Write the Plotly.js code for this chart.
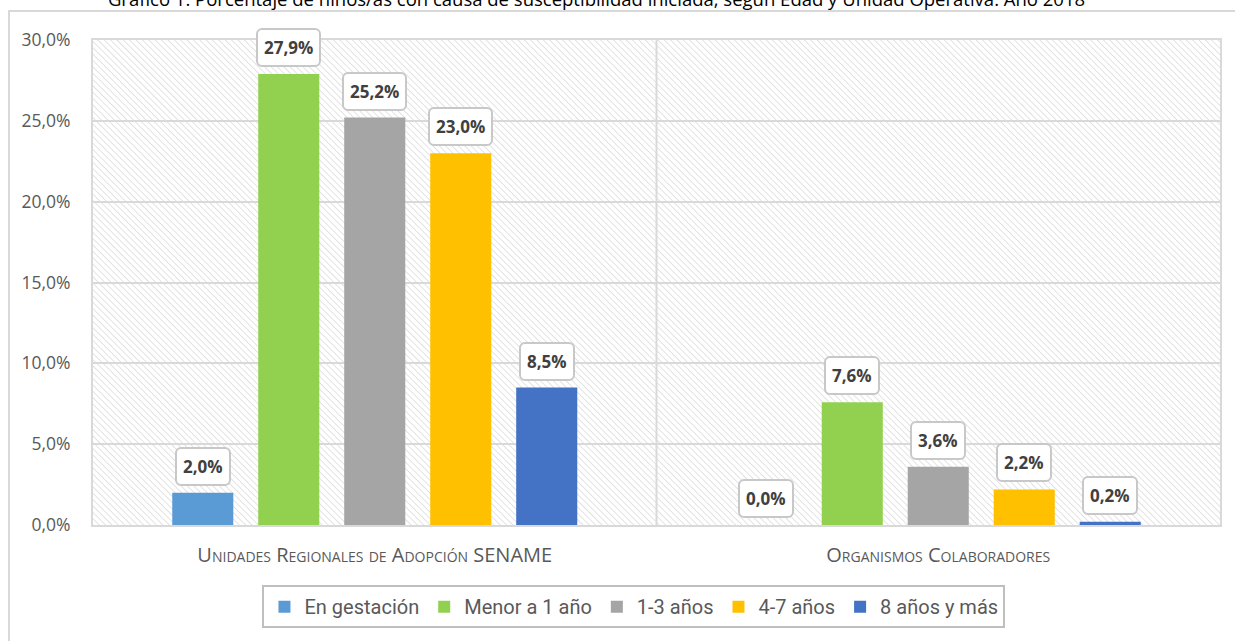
<!DOCTYPE html>
<html>
<head>
<meta charset="utf-8">
<script src="https://cdn.plot.ly/plotly-3.0.1.min.js"></script>
<style>
  html, body { margin: 0; padding: 0; width: 1235px; height: 641px; overflow: hidden; background: #fff; }
  #frame { position: absolute; left: 8px; top: 10px; width: 1240px; height: 700px; border: 2px solid #d9d9d9; box-sizing: border-box; }
  #chart { position: absolute; left: 0; top: 0; width: 1235px; height: 641px; }
</style>
</head>
<body>
<div id="frame"></div>
<div id="chart"></div>
<script>
// ---- data ----
const chartTitle = "Gráfico 1: Porcentaje de niños/as con causa de susceptibilidad iniciada, según Edad y Unidad Operativa. Año 2018";
const categories = ["Unidades Regionales de Adopción SENAME", "Organismos Colaboradores"];
const seriesNames = ["En gestación", "Menor a 1 año", "1-3 años", "4-7 años", "8 años y más"];
const enGestacion = [2.0, 0.0];
const menorA1 = [27.9, 7.6];
const de1a3 = [25.2, 3.6];
const de4a7 = [23.0, 2.2];
const de8yMas = [8.5, 0.2];
const yTicks = [0, 5, 10, 15, 20, 25, 30];

const seriesValues = [enGestacion, menorA1, de1a3, de4a7, de8yMas];
const colors = ["#5B9BD5", "#92D050", "#A5A5A5", "#FFC000", "#4472C4"];

const bargap = 0.237;
const nSeries = seriesValues.length;
const slot = (1 - bargap) / nSeries;

const traces = seriesValues.map((vals, j) => ({
  type: "bar",
  name: seriesNames[j],
  x: categories,
  y: vals,
  marker: { color: colors[j] },
  hoverinfo: "skip"
}));

const fmt = v => v.toFixed(1).replace(".", ",") + "%";
const annotations = [];
seriesValues.forEach((vals, j) => {
  vals.forEach((v, i) => {
    annotations.push({
      xref: "x", yref: "y",
      x: i + (j - (nSeries - 1) / 2) * slot,
      y: v,
      text: fmt(v),
      showarrow: false,
      xanchor: "center", yanchor: "bottom",
      yshift: 7,
      font: { family: "Open Sans, sans-serif", size: 17, color: "#404040", weight: 700 },
      bgcolor: "#ffffff",
      bordercolor: "#c8c8c8",
      borderwidth: 2,
      borderpad: 6
    });
  });
});

const layout = {
  width: 1235, height: 641,
  margin: { l: 93, r: 15, t: 40, b: 116 },
  paper_bgcolor: "rgba(0,0,0,0)",
  plot_bgcolor: "#ffffff",
  title: {
    text: chartTitle,
    x: 0.483, xanchor: "center",
    y: 1, yanchor: "middle", yref: "container",
    font: { family: "Open Sans, sans-serif", size: 18.5, color: "#000000" }
  },
  barmode: "group",
  bargap: bargap,
  bargroupgap: 0.29,
  showlegend: true,
  legend: {
    orientation: "h",
    x: 0.48, xanchor: "center",
    y: -0.124, yanchor: "top",
    bordercolor: "#bfbfbf", borderwidth: 2,
    bgcolor: "#ffffff",
    font: { family: "Roboto, sans-serif", size: 20, color: "#595959" },
    itemwidth: 30,
    traceorder: "normal"
  },
  xaxis: {
    type: "category",
    showgrid: false,
    showline: true, mirror: true, linecolor: "#d9d9d9", linewidth: 2,
    ticks: "",
    tickfont: { family: "Open Sans, sans-serif", size: 20, color: "#595959", variant: "small-caps" },
    ticklabelstandoff: 11,
    fixedrange: true
  },
  yaxis: {
    range: [0, 30],
    tickvals: yTicks,
    ticktext: yTicks.map(fmt),
    showgrid: true, gridcolor: "#d9d9d9", gridwidth: 2,
    showline: true, mirror: true, linecolor: "#d9d9d9", linewidth: 2,
    zeroline: false,
    ticks: "",
    ticklabelstandoff: 17,
    tickfont: { family: "Open Sans, sans-serif", size: 17.5, color: "#595959" },
    fixedrange: true
  },
  separators: ",.",
  shapes: [{
    type: "line", xref: "x", yref: "paper",
    x0: 0.5, x1: 0.5, y0: 0, y1: 1,
    line: { color: "#d9d9d9", width: 2 },
    layer: "below"
  }],
  annotations: annotations
};

Plotly.newPlot("chart", traces, layout, { displayModeBar: false, staticPlot: true }).then(() => {
  const svgNS = "http://www.w3.org/2000/svg";
  const svg = document.querySelector("#chart .main-svg");
  let defs = svg.querySelector("defs");
  if (!defs) { defs = document.createElementNS(svgNS, "defs"); svg.insertBefore(defs, svg.firstChild); }
  const pat = document.createElementNS(svgNS, "pattern");
  pat.setAttribute("id", "hatchbg");
  pat.setAttribute("width", "4.5");
  pat.setAttribute("height", "4.5");
  pat.setAttribute("patternUnits", "userSpaceOnUse");
  pat.setAttribute("patternTransform", "rotate(-45)");
  const r = document.createElementNS(svgNS, "rect");
  r.setAttribute("width", "4.5"); r.setAttribute("height", "4.5"); r.setAttribute("fill", "#ffffff");
  const l = document.createElementNS(svgNS, "line");
  l.setAttribute("x1", "0"); l.setAttribute("y1", "0"); l.setAttribute("x2", "0"); l.setAttribute("y2", "4.5");
  l.setAttribute("stroke", "#dadada"); l.setAttribute("stroke-width", "1.5");
  pat.appendChild(r); pat.appendChild(l);
  defs.appendChild(pat);
  document.querySelectorAll("#chart .bglayer rect.bg").forEach(b => { b.style.fill = "url(#hatchbg)"; });
  document.querySelectorAll("#chart .annotation rect.bg").forEach(b => { b.setAttribute("rx", "5"); b.setAttribute("ry", "5"); });
});
</script>
</body>
</html>
